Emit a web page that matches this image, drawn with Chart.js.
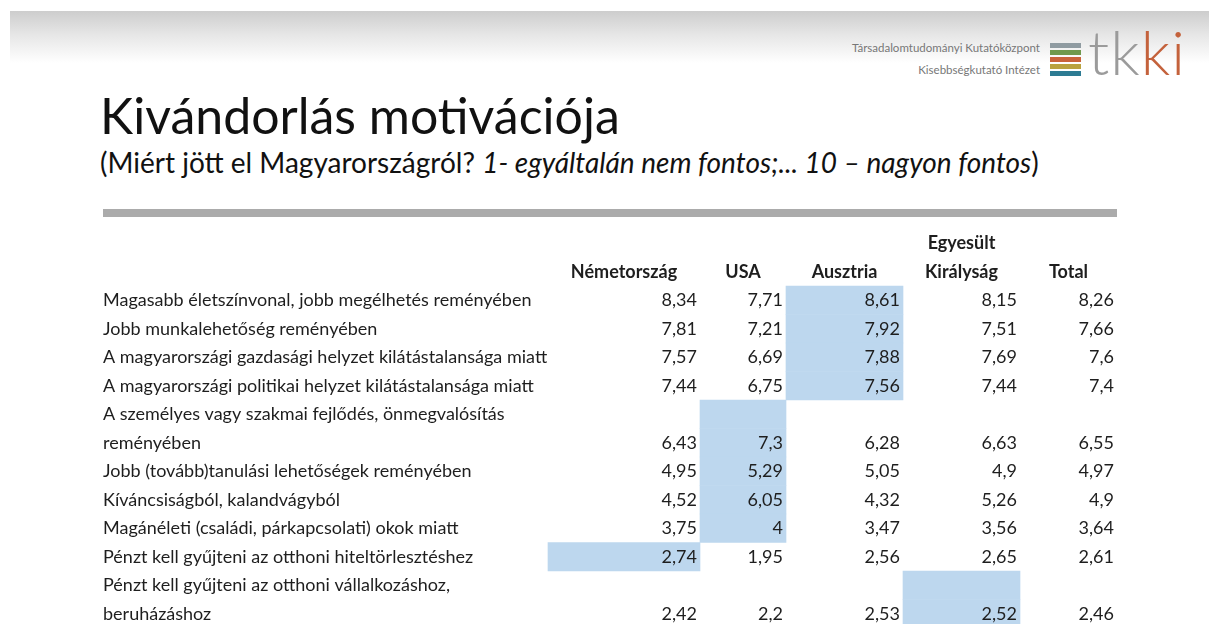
<!DOCTYPE html>
<html lang="hu">
<head>
<meta charset="utf-8">
<title>Kivándorlás motivációja</title>
<script src="https://cdn.jsdelivr.net/npm/chart.js@4.4.1/dist/chart.umd.min.js"></script>
<style>
  html, body { margin: 0; padding: 0; background: #fff; }
  body { width: 1209px; height: 624px; overflow: hidden; position: relative; font-family: Lato, "Open Sans", sans-serif; }
  #band { position: absolute; left: 10px; top: 11px; width: 1199px; height: 52px;
          background: linear-gradient(to bottom, #cdcdcd 0%, #e6e6e6 45%, #ffffff 100%); }
  #title { position: absolute; left: 100px; top: 85px; font-size: 50px; line-height: 1.2; color: #111; white-space: nowrap; }
  #subtitle { position: absolute; left: 100px; top: 146px; font-size: 28px; line-height: 1.2; color: #111; white-space: nowrap; }
  #rule { position: absolute; left: 103px; top: 209px; width: 1014px; height: 8px; background: #ababab; }
  .org { position: absolute; right: 169px; font-size: 11.5px; color: #777; white-space: nowrap; line-height: 1.2; }
  #org1 { top: 41px; }
  #org2 { top: 63px; }
  .stripe { position: absolute; left: 1050px; width: 31px; height: 5px; }
  #logo { position: absolute; left: 1088px; top: 14px; font-size: 62px; line-height: 1.2; font-weight: 300; letter-spacing: 1px; white-space: nowrap; }
  #chart { position: absolute; left: 0; top: 0; }
</style>
</head>
<body>
<div id="band"></div>
<div class="org" id="org1">Társadalomtudományi Kutatóközpont</div>
<div class="org" id="org2">Kisebbségkutató Intézet</div>
<div class="stripe" style="top:43px;background:#8f9ba1"></div>
<div class="stripe" style="top:50px;background:#6f994d"></div>
<div class="stripe" style="top:57px;background:#c9633b"></div>
<div class="stripe" style="top:64px;background:#b9a23f"></div>
<div class="stripe" style="top:71px;background:#2d7b93"></div>
<div id="logo"><span style="color:#9b9b9b">tk</span><span style="color:#c4623c">ki</span></div>
<div id="title">Kivándorlás motivációja</div>
<div id="subtitle">(Miért jött el Magyarországról? <i>1- egyáltalán nem fontos;... 10 – nagyon fontos</i>)</div>
<div id="rule"></div>
<canvas id="chart" width="1209" height="632"></canvas>
<script>
// ---- data ----
const CATEGORIES = [
  ["Magasabb életszínvonal, jobb megélhetés reményében"],
  ["Jobb munkalehetőség reményében"],
  ["A magyarországi gazdasági helyzet kilátástalansága miatt"],
  ["A magyarországi politikai helyzet kilátástalansága miatt"],
  ["A személyes vagy szakmai fejlődés, önmegvalósítás", "reményében"],
  ["Jobb (tovább)tanulási lehetőségek reményében"],
  ["Kíváncsiságból, kalandvágyból"],
  ["Magánéleti (családi, párkapcsolati) okok miatt"],
  ["Pénzt kell gyűjteni az otthoni hiteltörlesztéshez"],
  ["Pénzt kell gyűjteni az otthoni vállalkozáshoz,", "beruházáshoz"]
];
const COLUMN_HEADERS = [["Németország"], ["USA"], ["Ausztria"], ["Egyesült", "Királyság"], ["Total"]];
const NEMETORSZAG = [8.34, 7.81, 7.57, 7.44, 6.43, 4.95, 4.52, 3.75, 2.74, 2.42];
const USA = [7.71, 7.21, 6.69, 6.75, 7.3, 5.29, 6.05, 4, 1.95, 2.2];
const AUSZTRIA = [8.61, 7.92, 7.88, 7.56, 6.28, 5.05, 4.32, 3.47, 2.56, 2.53];
const EGYESULT_KIRALYSAG = [8.15, 7.51, 7.69, 7.44, 6.63, 4.9, 5.26, 3.56, 2.65, 2.52];
const TOTAL = [8.26, 7.66, 7.6, 7.4, 6.55, 4.97, 4.9, 3.64, 2.61, 2.46];
// highlighted column (index into COLUMN_HEADERS) for each row
const HIGHLIGHTED = [2, 2, 2, 2, 1, 1, 1, 1, 0, 3];

// ---- layout ----
const LABEL_COL_WIDTH = 445;
const VALUE_COL_WIDTHS = [152, 86, 117, 117, 97];
const HEADER_LINES = 2;
const CELL_PAD = 3;

const SERIES = [NEMETORSZAG, USA, AUSZTRIA, EGYESULT_KIRALYSAG, TOTAL];
const colEdges = [0];
[LABEL_COL_WIDTH, ...VALUE_COL_WIDTHS].forEach(w => colEdges.push(colEdges[colEdges.length - 1] + w));
const rowLines = CATEGORIES.map(l => l.length);
const rowStart = [];
let acc = 0;
rowLines.forEach(n => { rowStart.push(acc); acc += n; });
const totalLines = acc;

const highlightData = [];
HIGHLIGHTED.forEach((c, r) => {
  for (let k = 0; k < rowLines[r]; k++) {
    highlightData.push({ y: rowStart[r] + k + 0.5, x: [colEdges[c + 1], colEdges[c + 2]] });
  }
});

const fmt = v => String(v).replace('.', ',');
const FONT = 'Lato, "Open Sans", sans-serif';
const TEXT_COLOR = '#1e1e1e';

const tableText = {
  id: 'tableText',
  afterDatasetsDraw(chart) {
    const { ctx } = chart;
    const xs = chart.scales.x, ys = chart.scales.y;
    ctx.save();
    ctx.fillStyle = TEXT_COLOR;
    ctx.textBaseline = 'middle';
    // headers
    ctx.font = 'bold 18px ' + FONT;
    ctx.textAlign = 'center';
    COLUMN_HEADERS.forEach((lines, c) => {
      const cx = (xs.getPixelForValue(colEdges[c + 1]) + xs.getPixelForValue(colEdges[c + 2])) / 2;
      lines.forEach((t, j) => {
        ctx.fillText(t, cx, ys.getPixelForValue(-(lines.length - j) + 0.5));
      });
    });
    // row labels
    ctx.font = '18px ' + FONT;
    ctx.textAlign = 'left';
    CATEGORIES.forEach((lines, r) => {
      lines.forEach((t, k) => {
        ctx.fillText(t, xs.getPixelForValue(colEdges[0]), ys.getPixelForValue(rowStart[r] + k + 0.5));
      });
    });
    // values
    ctx.textAlign = 'right';
    SERIES.forEach((vals, c) => {
      const rx = xs.getPixelForValue(colEdges[c + 2]) - CELL_PAD;
      vals.forEach((v, r) => {
        ctx.fillText(fmt(v), rx, ys.getPixelForValue(rowStart[r] + rowLines[r] - 0.5));
      });
    });
    ctx.restore();
  }
};

new Chart(document.getElementById('chart'), {
  type: 'bar',
  data: {
    datasets: [{
      label: 'Kiemelt érték',
      data: highlightData,
      backgroundColor: '#bdd7ee',
      borderWidth: 0,
      barPercentage: 1,
      categoryPercentage: 1
    }]
  },
  options: {
    indexAxis: 'y',
    responsive: false,
    devicePixelRatio: 1,
    animation: false,
    events: [],
    layout: { padding: { left: 103, right: 92, top: 229, bottom: 4 } },
    scales: {
      x: { type: 'linear', min: 0, max: colEdges[colEdges.length - 1], display: false, offset: false },
      y: { type: 'linear', reverse: true, min: -HEADER_LINES, max: totalLines, display: false, offset: false, ticks: { stepSize: 1 } }
    },
    plugins: { legend: { display: false }, tooltip: { enabled: false }, title: { display: false } }
  },
  plugins: [tableText]
});
</script>
</body>
</html>
